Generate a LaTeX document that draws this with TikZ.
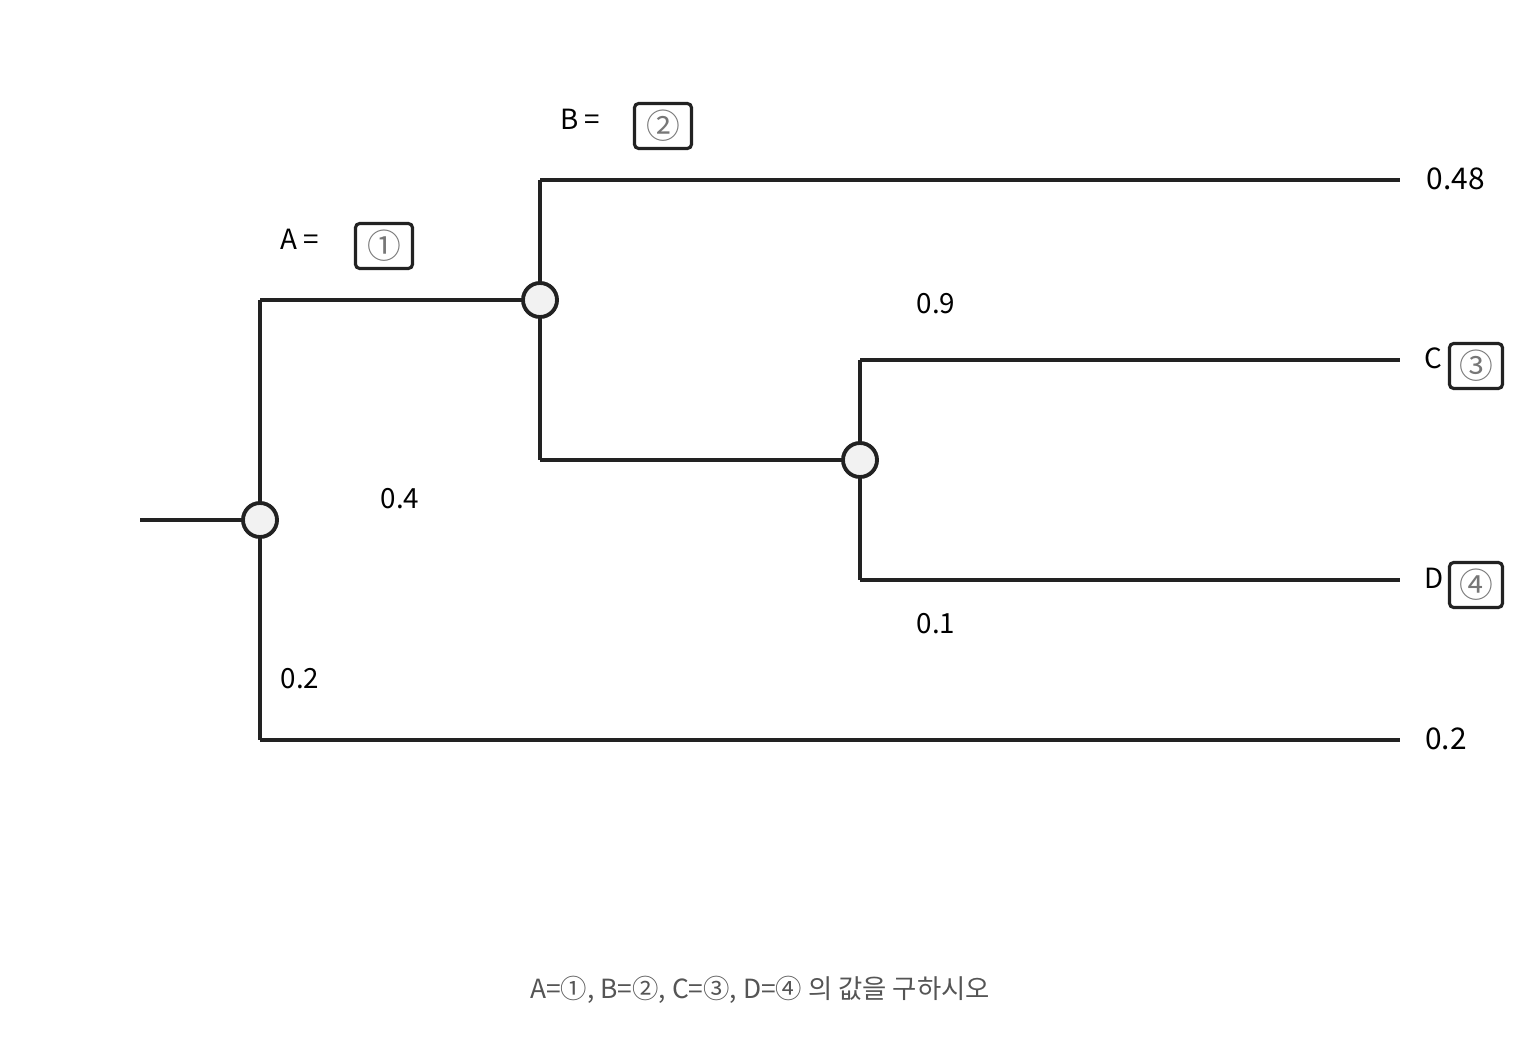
\documentclass[tikz,border=0pt]{standalone}
\usepackage{fontspec}
\setmainfont{Noto Sans CJK KR}
\definecolor{ink}{HTML}{222222}
\definecolor{nodefill}{HTML}{F2F2F2}
\definecolor{numgrey}{HTML}{777777}
\definecolor{notegrey}{HTML}{555555}
\begin{document}
\begin{tikzpicture}[x=0.01cm,y=-0.01cm,
  branch/.style={draw=ink,line width=1.1pt},
  chance/.style={circle,draw=ink,fill=nodefill,line width=1.1pt,minimum size=0.34cm,inner sep=0pt},
  lbl/.style={text=black,font=\fontsize{7.9}{9}\selectfont,inner sep=0pt},
  endlbl/.style={text=black,font=\fontsize{8.5}{10}\selectfont,inner sep=0pt},
  ansbox/.style={draw=ink,line width=0.9pt,rounded corners=1.2pt,text=numgrey,font=\fontsize{9.6}{10}\selectfont,inner sep=0pt,minimum width=0.57cm,minimum height=0.45cm},
  ansboxs/.style={ansbox,minimum width=0.53cm,minimum height=0.45cm}]
\useasboundingbox (0,0) rectangle (1520,1040);
% coordinates
\coordinate (start) at (140,520);
\coordinate (aup) at (260,300);
\coordinate (adown) at (260,740);
\coordinate (bup) at (540,180);
\coordinate (bdown) at (540,460);
\coordinate (cup) at (860,360);
\coordinate (cdown) at (860,580);
\coordinate (e1) at (1400,180);
\coordinate (e2) at (1400,360);
\coordinate (e3) at (1400,580);
\coordinate (e4) at (1400,740);
% branches
\draw[branch] (start) -- (260,520);
\draw[branch] (aup) -- (adown);
\draw[branch] (aup) -- (540,300);
\draw[branch] (bup) -- (bdown);
\draw[branch] (bup) -- (e1);
\draw[branch] (bdown) -- (860,460);
\draw[branch] (cup) -- (cdown);
\draw[branch] (cup) -- (e2);
\draw[branch] (cdown) -- (e3);
\draw[branch] (adown) -- (e4);
% chance nodes
\node[chance] (n1) at (260,520) {};
\node[chance] (n2) at (540,300) {};
\node[chance] (n3) at (860,460) {};
% labels
\node[lbl] (la) at (300,239) {A =};
\node[ansbox] (b1) at (384,246) {①};
\node[lbl] (lb) at (580,119) {B =};
\node[ansbox] (b2) at (663,126) {②};
\node[lbl] (p04) at (400,499) {0.4};
\node[lbl] (p09) at (936,304) {0.9};
\node[lbl] (p01) at (936,624) {0.1};
\node[lbl] (p02) at (300,679) {0.2};
\node[endlbl] (v1) at (1456,179) {0.48};
\node[endlbl] (v4) at (1446,739) {0.2};
\node[lbl] (lc) at (1433,358) {C};
\node[ansboxs] (b3) at (1476,366) {③};
\node[lbl] (ld) at (1434,578) {D};
\node[ansboxs] (b4) at (1476,585) {④};
\node[text=notegrey,font=\fontsize{7.5}{9}\selectfont,inner sep=0pt] (note) at (760,990) {A=①, B=②, C=③, D=④ 의 값을 구하시오};
\end{tikzpicture}
\end{document}
